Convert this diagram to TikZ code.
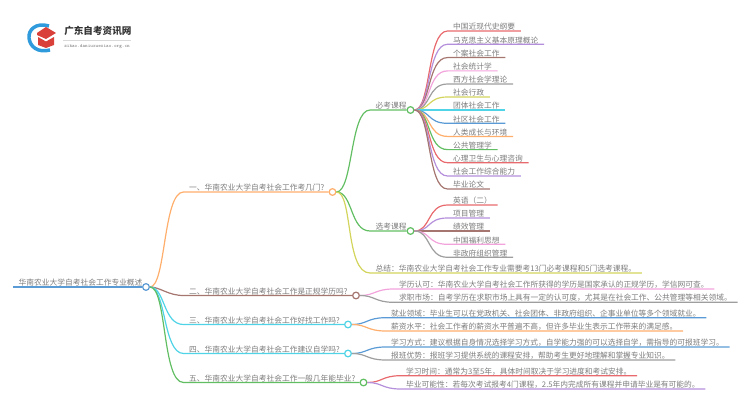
\documentclass[tikz,border=0pt]{standalone}
\usepackage{fontspec}
\setmainfont{Noto Sans CJK SC}
\usepackage{tikz}

\definecolor{lineRed}{HTML}{E96A6E}
\definecolor{linePurple}{HTML}{B48FDB}
\definecolor{lineBrown}{HTML}{A5756F}
\definecolor{linePink}{HTML}{F2A3DC}
\definecolor{lineGray}{HTML}{9E9E9E}
\definecolor{lineYellow}{HTML}{D2D45C}
\definecolor{lineCyan}{HTML}{4FD3E6}
\definecolor{lineBlue}{HTML}{5B9BD5}
\definecolor{lineOrange}{HTML}{FFAE6B}
\definecolor{lineGreen}{HTML}{62BE62}
\definecolor{textGray}{HTML}{7C7C7C}
\definecolor{logoRed}{HTML}{D9403A}
\definecolor{logoBlue}{HTML}{2F9BDC}

\tikzset{
  lab/.style={anchor=south west, inner xsep=4.1pt, inner ysep=0.2pt, text=textGray, font=\fontsize{5.8}{7}\selectfont},
  joint/.style={circle, draw=#1, fill=white, line width=0.9pt, minimum size=5pt, inner sep=0pt},
  wire/.style={draw=#1, line width=0.9pt}
}

\begin{document}
\begin{tikzpicture}[x=0.75pt, y=-0.75pt]

\useasboundingbox (0, 0) rectangle (750, 410);

% logo
\draw[logoBlue, line width=2.6pt] (49, 26) .. controls (36, 22) and (28, 30) .. (29, 38) .. controls (30, 47) and (38, 53) .. (50, 50);
\fill[logoRed] (46, 27) -- (56, 33) -- (46, 39) -- (37, 35) -- (37, 33) -- cycle;
\fill[logoRed] (38, 37) -- (46, 41.5) -- (54, 37) -- (54, 45) -- (46, 48) -- (38, 45) -- cycle;
\node[anchor=west, inner sep=0pt, text=black!80, font=\fontsize{7.2}{8}\selectfont\bfseries] (logoname) at (64, 31) {广东自考资讯网};
\node[anchor=west, inner sep=0pt, text=textGray, font=\fontsize{3.7}{5}\ttfamily] (logourl) at (64, 47) {zikao.daniuxuexiao.org.cn};
\draw[black!15, line width=0.4pt] (63, 40) -- (131, 40);

% main topics
\node[lab] (root) at (13, 287) {华南农业大学自考社会工作专业概述};
\node[lab] (one) at (183.5, 192) {一、华南农业大学自考社会工作考几门?};
\node[lab] (two) at (183.5, 295.5) {二、华南农业大学自考社会工作是正规学历吗?};
\node[lab] (three) at (183.5, 324.5) {三、华南农业大学自考社会工作好找工作吗?};
\node[lab] (four) at (183.5, 353.5) {四、华南农业大学自考社会工作建议自学吗?};
\node[lab] (five) at (183.5, 382.5) {五、华南农业大学自考社会工作一般几年能毕业?};

\node[joint=lineBlue] (rootdot) at (146, 287) {};
\node[joint=lineOrange] (onedot) at (332.5, 192) {};
\node[joint=lineBrown] (twodot) at (356, 295.5) {};
\node[joint=lineCyan] (threedot) at (348, 324.5) {};
\node[joint=lineCyan] (fourdot) at (348, 353.5) {};
\node[joint=lineGreen] (fivedot) at (363.5, 382.5) {};

\draw[wire=lineBlue] (root.south west) -- (rootdot);
\draw[wire=lineOrange] (rootdot) .. controls (166, 287) and (163, 192) .. (one.south west) -- (onedot);
\draw[wire=lineBrown] (rootdot) .. controls (160, 287) and (168, 295.5) .. (two.south west) -- (twodot);
\draw[wire=lineCyan] (rootdot) .. controls (165, 287) and (163, 324.5) .. (three.south west) -- (threedot);
\draw[wire=lineCyan] (rootdot) .. controls (166, 287) and (163, 353.5) .. (four.south west) -- (fourdot);
\draw[wire=lineGreen] (rootdot) .. controls (167, 287) and (162, 382.5) .. (five.south west) -- (fivedot);

% first topic
\node[lab] (must) at (370, 110) {必考课程};
\node[lab] (opt) at (370, 231) {选考课程};
\node[lab] (sum) at (370, 273) {总结：华南农业大学自考社会工作专业需要考13门必考课程和5门选考课程。};
\node[joint=lineGreen] (mustdot) at (410.5, 110) {};
\node[joint=lineGreen] (optdot) at (410.5, 231) {};

\draw[wire=lineGreen] (onedot) .. controls (353, 192) and (350, 110) .. (must.south west) -- (mustdot);
\draw[wire=lineGreen] (onedot) .. controls (353, 192) and (350, 231) .. (opt.south west) -- (optdot);
\draw[wire=lineYellow] (onedot) .. controls (353, 192) and (345, 273) .. (sum.south west) -- (sum.south east);

% required courses
\node[lab] (m1) at (447.5, 31) {中国近现代史纲要};
\node[lab] (m2) at (447.5, 44.3) {马克思主义基本原理概论};
\node[lab] (m3) at (447.5, 57.6) {个案社会工作};
\node[lab] (m4) at (447.5, 70.9) {社会统计学};
\node[lab] (m5) at (447.5, 84) {西方社会学理论};
\node[lab] (m6) at (447.5, 97) {社会行政};
\node[lab] (m7) at (447.5, 110) {团体社会工作};
\node[lab] (m8) at (447.5, 123.3) {社区社会工作};
\node[lab] (m9) at (447.5, 136.4) {人类成长与环境};
\node[lab] (m10) at (447.5, 149.6) {公共管理学};
\node[lab] (m11) at (447.5, 162.7) {心理卫生与心理咨询};
\node[lab] (m12) at (447.5, 176) {社会工作综合能力};
\node[lab] (m13) at (447.5, 189) {毕业论文};

\draw[wire=lineRed] (mustdot) .. controls (431, 110) and (427, 31) .. (m1.south west) -- (m1.south east);
\draw[wire=linePurple] (mustdot) .. controls (431, 110) and (427, 44.3) .. (m2.south west) -- (m2.south east);
\draw[wire=lineBrown] (mustdot) .. controls (431, 110) and (427, 57.6) .. (m3.south west) -- (m3.south east);
\draw[wire=linePink] (mustdot) .. controls (431, 110) and (427, 70.9) .. (m4.south west) -- (m4.south east);
\draw[wire=lineGray] (mustdot) .. controls (431, 110) and (427, 84) .. (m5.south west) -- (m5.south east);
\draw[wire=lineYellow] (mustdot) .. controls (431, 110) and (427, 97) .. (m6.south west) -- (m6.south east);
\draw[wire=lineCyan] (mustdot) -- (m7.south west) -- (m7.south east);
\draw[wire=lineBlue] (mustdot) .. controls (431, 110) and (427, 123.3) .. (m8.south west) -- (m8.south east);
\draw[wire=lineOrange] (mustdot) .. controls (431, 110) and (427, 136.4) .. (m9.south west) -- (m9.south east);
\draw[wire=lineGreen] (mustdot) .. controls (431, 110) and (427, 149.6) .. (m10.south west) -- (m10.south east);
\draw[wire=lineRed] (mustdot) .. controls (431, 110) and (427, 162.7) .. (m11.south west) -- (m11.south east);
\draw[wire=linePurple] (mustdot) .. controls (431, 110) and (427, 176) .. (m12.south west) -- (m12.south east);
\draw[wire=lineBrown] (mustdot) .. controls (431, 110) and (427, 189) .. (m13.south west) -- (m13.south east);

% optional courses
\node[lab] (o1) at (447.5, 205) {英语（二）};
\node[lab] (o2) at (447.5, 218) {项目管理};
\node[lab] (o3) at (447.5, 231) {绩效管理};
\node[lab] (o4) at (447.5, 244.3) {中国福利思想};
\node[lab] (o5) at (447.5, 257.3) {非政府组织管理};

\draw[wire=lineRed] (optdot) .. controls (431, 231) and (427, 205) .. (o1.south west) -- (o1.south east);
\draw[wire=linePurple] (optdot) .. controls (431, 231) and (427, 218) .. (o2.south west) -- (o2.south east);
\draw[wire=lineBrown] (optdot) -- (o3.south west) -- (o3.south east);
\draw[wire=linePink] (optdot) .. controls (431, 231) and (427, 244.3) .. (o4.south west) -- (o4.south east);
\draw[wire=lineGray] (optdot) .. controls (431, 231) and (427, 257.3) .. (o5.south west) -- (o5.south east);

% other topics
\node[lab] (t1) at (393.5, 289) {学历认可：华南农业大学自考社会工作所获得的学历是国家承认的正规学历，学信网可查。};
\node[lab] (t2) at (393.5, 302.3) {求职市场：自考学历在求职市场上具有一定的认可度，尤其是在社会工作、公共管理等相关领域。};
\node[lab] (h1) at (385.5, 317.7) {就业领域：毕业生可以在党政机关、社会团体、非政府组织、企事业单位等多个领域就业。};
\node[lab] (h2) at (385.5, 331) {薪资水平：社会工作者的薪资水平普遍不高，但许多毕业生表示工作带来的满足感。};
\node[lab] (s1) at (385.5, 347) {学习方式：建议根据自身情况选择学习方式，自学能力强的可以选择自学，需指导的可报班学习。};
\node[lab] (s2) at (385.5, 360) {报班优势：报班学习提供系统的课程安排，帮助考生更好地理解和掌握专业知识。};
\node[lab] (y1) at (400.5, 375.7) {学习时间：通常为3至5年，具体时间取决于学习进度和考试安排。};
\node[lab] (y2) at (400.5, 389) {毕业可能性：若每次考试报考4门课程，2.5年内完成所有课程并申请毕业是有可能的。};

\draw[wire=linePink] (twodot) .. controls (375, 295.5) and (375, 289) .. (t1.south west) -- (t1.south east);
\draw[wire=lineGray] (twodot) .. controls (375, 295.5) and (375, 302.3) .. (t2.south west) -- (t2.south east);
\draw[wire=lineBlue] (threedot) .. controls (367, 324.5) and (367, 317.7) .. (h1.south west) -- (h1.south east);
\draw[wire=lineOrange] (threedot) .. controls (367, 324.5) and (367, 331) .. (h2.south west) -- (h2.south east);
\draw[wire=lineBlue] (fourdot) .. controls (367, 353.5) and (367, 347) .. (s1.south west) -- (s1.south east);
\draw[wire=lineGray] (fourdot) .. controls (367, 353.5) and (367, 360) .. (s2.south west) -- (s2.south east);
\draw[wire=lineRed] (fivedot) .. controls (382, 382.5) and (382, 375.7) .. (y1.south west) -- (y1.south east);
\draw[wire=linePurple] (fivedot) .. controls (382, 382.5) and (382, 389) .. (y2.south west) -- (y2.south east);

\end{tikzpicture}
\end{document}
